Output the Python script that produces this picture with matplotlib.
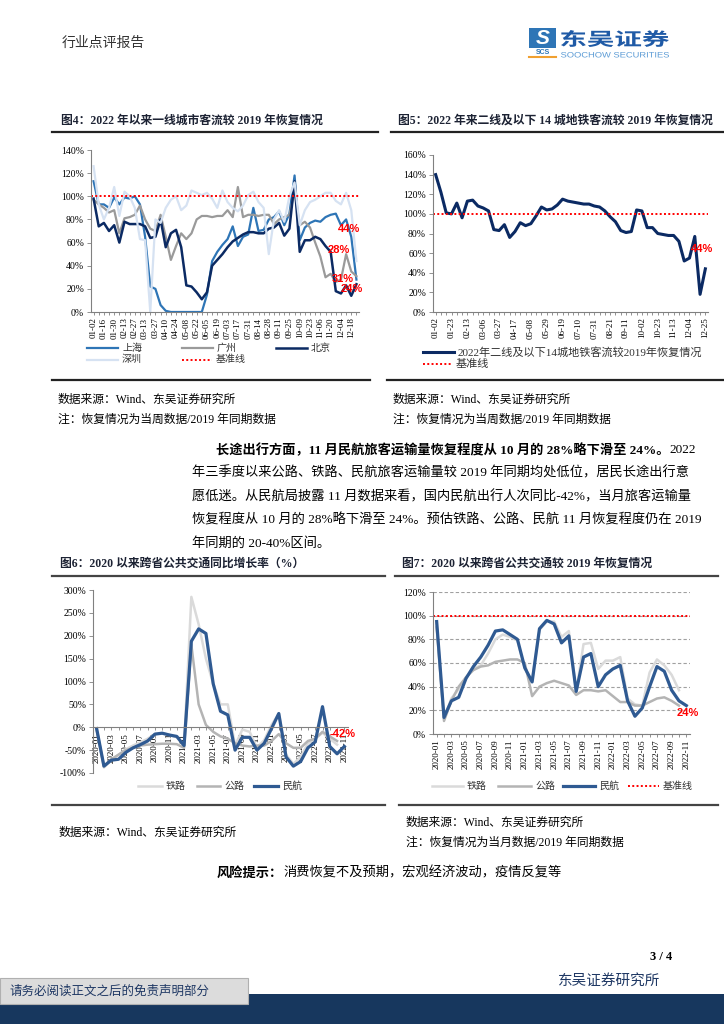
import numpy as np
import matplotlib
matplotlib.use('Agg')
import matplotlib.pyplot as plt
from matplotlib.lines import Line2D
from matplotlib.patches import Rectangle, PathPatch
from matplotlib.textpath import TextPath
from matplotlib.transforms import Affine2D
from matplotlib.font_manager import FontProperties
from matplotlib.ticker import FuncFormatter

plt.rcParams['font.family'] = ['Liberation Serif', 'Noto Sans CJK SC']
plt.rcParams['axes.unicode_minus'] = False

nan = np.nan

# ---------------- data ----------------
# fig 4: weekly, 2022-01-02 .. 2022-12-25 (52 weeks)
ticks4 = ['01-02', '01-16', '01-30', '02-13', '02-27', '03-13', '03-27', '04-10', '04-24',
          '05-08', '05-22', '06-05', '06-19', '07-03', '07-17', '07-31', '08-14', '08-28',
          '09-11', '09-25', '10-09', '10-23', '11-06', '11-20', '12-04', '12-18']
shanghai = [113, 93, 93, 90, 99, 93, 99, 98, 100, 93,
            65, 22, 20, 6, 1, 0, 0, 0, 0, 0,
            0, 0, 15, 44, 52, 58, 63, 74, 57, 65,
            67, 90, 70, 71, 80, 82, 87, 75, 85, 118,
            62, 73, 77, 79, 78, 82, 84, 85, 75, 80,
            65, 28]
guangzhou = [97, 93, 90, 86, 88, 68, 81, 82, 84, 92,
             80, 72, 70, 84, 65, 45, 57, 68, 63, 68,
             80, 83, 83, 82, 83, 83, 88, 82, 108, 82,
             84, 84, 83, 84, 84, 76, 80, 82, 84, 104,
             75, 78, 73, 60, 48, 30, 33, 26, 28, 50,
             35, 31]
beijing = [98, 74, 77, 70, 75, 60, 78, 76, 76, 76,
           74, 64, 65, 80, 56, 68, 71, 56, 23, 22,
           17, 11, 17, 40, 45, 50, 56, 61, 64, 67,
           69, 69, 68, 68, 72, 73, 77, 66, 72, 113,
           52, 62, 62, 65, 63, 57, 52, 18, 16, 23,
           14, 24]
shenzhen = [126, 93, 80, 90, 108, 83, 104, 100, 90, 63,
            62, 0, 80, 77, 90, 97, 100, 88, 92, 105,
            103, 101, 103, 98, 90, 105, 95, 90, 87, 92,
            101, 104, 95, 90, 50, 80, 88, 78, 100, 112,
            75, 88, 95, 97, 100, 103, 103, 96, 93, 103,
            88, 44]

# fig 5: weekly, 14 second-tier cities metro
ticks5 = ['01-02', '01-23', '02-13', '03-06', '03-27', '04-17', '05-08', '05-29', '06-19',
          '07-10', '07-31', '08-21', '09-11', '10-02', '10-23', '11-13', '12-04', '12-25']
metro = [140, 122, 101, 100, 111, 96, 113, 114, 108, 106,
         103, 84, 83, 89, 76, 82, 91, 88, 90, 98,
         107, 104, 105, 109, 115, 113, 112, 111, 110, 110,
         108, 107, 103, 97, 92, 83, 81, 82, 104, 103,
         86, 86, 80, 79, 78, 78, 72, 52, 55, 77,
         18, 44]

# fig 6 / fig 7: monthly, 2020-01 .. 2022-11
ticks_m = ['2020-01', '2020-03', '2020-05', '2020-07', '2020-09', '2020-11',
           '2021-01', '2021-03', '2021-05', '2021-07', '2021-09', '2021-11',
           '2022-01', '2022-03', '2022-05', '2022-07', '2022-09', '2022-11']
rail_yoy = [-5, -88, -72, -60, -48, -40, -33, -25, -15, -13,
            -17, -22, -40, 285, 225, 150, 95, 50, 50, -40,
            -5, -10, -45, -28, 5, 30, -60, -80, -65, -35,
            -25, -12, -25, -38, nan]
road_yoy = [-5, -85, -70, -60, -50, -45, -40, -38, -37, -36,
            -36, -37, -45, 180, 50, 5, -10, -20, -25, -35,
            -40, -42, -40, -40, -30, -15, -35, -45, -45, -30,
            -25, -10, -20, -30, nan]
air_yoy = [-3, -85, -72, -70, -55, -45, -38, -30, -15, -13,
           -17, -20, -40, 188, 215, 205, 95, 35, 27, -50,
           -22, -22, -50, -35, -3, 30, -65, -85, -75, -45,
           -32, 45, -42, -58, -42]

rail_rec = [93, 13, 30, 38, 48, 55, 58, 68, 80, 84,
            82, 79, 55, 45, 88, 95, 95, 82, 87, 35,
            76, 77, 55, 62, 62, 65, 30, 25, 24, 52,
            63, 58, 50, 37, nan]
road_rec = [90, 11, 28, 40, 48, 54, 57, 58, 61, 62,
            63, 63, 60, 32, 40, 43, 45, 43, 41, 33,
            37, 37, 36, 37, 32, 27, 27, 24, 24, 27,
            30, 31, 28, 24, nan]
air_rec = [95, 14, 28, 31, 47, 57, 65, 75, 87, 88,
           84, 80, 56, 44, 89, 96, 93, 77, 83, 36,
           65, 68, 40, 50, 55, 58, 28, 15, 22, 40,
           57, 53, 37, 28, 24]
baseline = 100

# ---------------- page layout helpers (pixel coords, origin top-left) ----------------
W, H = 724, 1024
fig = plt.figure(figsize=(W / 100, H / 100), dpi=100)


def fx(x):
    return x / W


def fy(y):
    return 1 - y / H


def box(x0, y0, x1, y1):
    return [fx(x0), fy(y1), (x1 - x0) / W, (y1 - y0) / H]


def put(x, y, s, **kw):
    kw.setdefault('va', 'center')
    kw.setdefault('ha', 'left')
    return fig.text(fx(x), fy(y), s, **kw)


def rule(x0, x1, y, **kw):
    fig.add_artist(Line2D([fx(x0), fx(x1)], [fy(y), fy(y)], transform=fig.transFigure, **kw))


def swatch(x0, x1, y, label, size=7.2, **kw):
    rule(x0, x1, y, **kw)
    put(x1 + 4, y, label, fontsize=size, color='#333333')


def stretch_text(s, x0, x1, y0, y1, color, family, weight='bold'):
    tp = TextPath((0, 0), s, size=10, prop=FontProperties(family=family, weight=weight))
    ext = tp.get_extents()
    tr = (Affine2D().translate(-ext.x0, -ext.y0)
          .scale((x1 - x0) / ext.width, (y1 - y0) / ext.height)
          .translate(x0, H - y1))
    fig.add_artist(PathPatch(tp, transform=tr, facecolor=color, lw=0))


pct = FuncFormatter(lambda v, p: f'{v:.0f}%')
AX_C = '#808080'
TITLE_C = '#1c2233'


def style_axes(ax, ymin, ymax, step, xticklabels, every):
    n = ax.get_lines()[0].get_xdata().size
    ax.set_xlim(-0.5, n - 0.5)
    ax.set_ylim(ymin, ymax)
    ax.set_yticks(np.arange(ymin, ymax + 1, step))
    ax.yaxis.set_major_formatter(pct)
    ax.set_xticks(np.arange(0, n, every))
    ax.set_xticklabels(xticklabels)
    ax.set_xticks(np.arange(n), minor=True)
    for sk in ['top', 'right']:
        ax.spines[sk].set_visible(False)
    for sk in ['left', 'bottom']:
        ax.spines[sk].set_color(AX_C)
        ax.spines[sk].set_linewidth(0.8)
    ax.tick_params(axis='y', labelsize=7, length=3, width=0.6, color=AX_C, pad=2)
    ax.tick_params(axis='x', which='both', labelsize=6.5, length=2, width=0.6, color=AX_C,
                   pad=2, labelrotation=90)
    ax.patch.set_alpha(0)


red_dot = dict(color='#FF0000', ls=(0, (1, 1.2)), lw=1.4)
ann = dict(color='#FF0000', fontsize=8, fontweight='bold', family='Liberation Sans',
           ha='center', va='center')

# ---------------- header ----------------
put(62, 43, '行业点评报告', fontsize=10, color='#333333', family='Noto Sans CJK SC')
fig.add_artist(Rectangle((fx(529), fy(48)), 27 / W, 20 / H, transform=fig.transFigure,
                         facecolor='#2E75B6', lw=0))
put(542.5, 38, 'S', fontsize=15, color='white', fontweight='bold', style='italic',
    family='Liberation Sans', ha='center')
put(542.5, 52.5, 'SCS', fontsize=5, color='#2E75B6', fontweight='bold',
    family='Liberation Sans', ha='center')
rule(529, 556, 56.5, color='#F0A030', lw=1.5)
stretch_text('东吴证券', 561, 669, 30, 47, '#1F5AA6', 'Noto Sans CJK SC')
stretch_text('SOOCHOW SECURITIES', 561, 669, 52, 57.5, '#5B9BD5', 'Liberation Sans', 'normal')

# ---------------- fig 4 ----------------
put(61, 121, '图4：2022 年以来一线城市客流较 2019 年恢复情况', fontsize=8.5,
    fontweight='bold', color=TITLE_C)
rule(52, 378, 131.5, color='#222222', lw=1.6)
ax4 = fig.add_axes(box(91, 150, 359, 312))
x4 = np.arange(len(shanghai))
C_SH, C_GZ, C_BJ, C_SZ = '#2E75B6', '#9A9A9A', '#0B2A63', '#D6E2F2'
ax4.plot(x4, shanghai, color=C_SH, lw=1.6)
ax4.plot(x4, guangzhou, color=C_GZ, lw=1.6)
ax4.plot(x4, beijing, color=C_BJ, lw=1.8)
ax4.plot(x4, shenzhen, color=C_SZ, lw=1.6)
ax4.axhline(baseline, **red_dot)
style_axes(ax4, 0, 140, 20, ticks4, 2)
ax4.text(49.6, 72, '44%', **ann)
ax4.text(47.5, 54, '28%', **ann)
ax4.text(48.4, 28.5, '31%', **ann)
ax4.text(50.0, 20, '24%', **ann)

swatch(87, 118, 348, '上海', color=C_SH, lw=1.6)
swatch(182, 213, 348, '广州', color=C_GZ, lw=1.6)
swatch(276, 307, 348, '北京', color=C_BJ, lw=1.8)
swatch(87, 118, 359.5, '深圳', color=C_SZ, lw=1.6)
swatch(182, 212, 359.5, '基准线', **red_dot)
rule(52, 370, 380, color='#222222', lw=1.6)
put(58, 399.5, '数据来源：Wind、东吴证券研究所', fontsize=8.5)
put(58, 419.5, '注：恢复情况为当周数据/2019 年同期数据', fontsize=8.5)

# ---------------- fig 5 ----------------
put(398, 121, '图5：2022 年来二线及以下 14 城地铁客流较 2019 年恢复情况', fontsize=8.5,
    fontweight='bold', color=TITLE_C)
rule(391, 724, 131.5, color='#222222', lw=1.6)
ax5 = fig.add_axes(box(433, 155, 708, 312))
x5 = np.arange(len(metro))
C_MT = '#0B2A63'
ax5.plot(x5, metro, color=C_MT, lw=2.2)
ax5.axhline(baseline, **red_dot)
style_axes(ax5, 0, 160, 20, ticks5, 3)
ax5.text(50.4, 64, '44%', **ann)
swatch(423, 454, 352, '2022年二线及以下14城地铁客流较2019年恢复情况', size=8.0,
       color=C_MT, lw=2.2)
swatch(423, 452, 364, '基准线', size=8.0, **red_dot)
rule(387, 724, 380, color='#222222', lw=1.6)
put(393, 399.5, '数据来源：Wind、东吴证券研究所', fontsize=8.5)
put(393, 419.5, '注：恢复情况为当周数据/2019 年同期数据', fontsize=8.5)

# ---------------- body paragraph ----------------
PS = 9.5
t = put(216, 450, '长途出行方面，11 月民航旅客运输量恢复程度从 10 月的 28%略下滑至 24%。',
        fontsize=PS, fontweight='bold')
fig.canvas.draw()
bb = t.get_window_extent()
put(bb.x1, 450, '2022', fontsize=PS)
body = ['年三季度以来公路、铁路、民航旅客运输量较 2019 年同期均处低位，居民长途出行意',
        '愿低迷。从民航局披露 11 月数据来看，国内民航出行人次同比-42%，当月旅客运输量',
        '恢复程度从 10 月的 28%略下滑至 24%。预估铁路、公路、民航 11 月恢复程度仍在 2019',
        '年同期的 20-40%区间。']
for i, line in enumerate(body):
    put(192, 473.3 + 23.3 * i, line, fontsize=PS)

# ---------------- fig 6 ----------------
put(60, 564, '图6：2020 以来跨省公共交通同比增长率（%）', fontsize=8.5,
    fontweight='bold', color=TITLE_C)
rule(52, 385, 575.5, color='#444444', lw=1.6)
ax6 = fig.add_axes(box(93, 590, 348, 773))
xm = np.arange(len(air_yoy))
C_RL, C_RD, C_AIR = '#DADADA', '#B4B4B4', '#2F5A92'
ax6.plot(xm, rail_yoy, color=C_RL, lw=1.8)
ax6.plot(xm, road_yoy, color=C_RD, lw=1.8)
ax6.plot(xm, air_yoy, color=C_AIR, lw=2.3)
ax6.spines['bottom'].set_position(('data', 0))
style_axes(ax6, -100, 300, 50, ticks_m, 2)
ax6.text(33.8, -15, '-42%', **ann)
swatch(138, 162, 786, '铁路', color=C_RL, lw=1.8)
swatch(197, 220, 786, '公路', color=C_RD, lw=1.8)
swatch(254, 278, 786, '民航', color=C_AIR, lw=2.3)
rule(52, 385, 804.5, color='#444444', lw=1.6)
put(59, 833, '数据来源：Wind、东吴证券研究所', fontsize=8.5)

# ---------------- fig 7 ----------------
put(402, 564, '图7：2020 以来跨省公共交通较 2019 年恢复情况', fontsize=8.5,
    fontweight='bold', color=TITLE_C)
rule(395, 718, 575.5, color='#444444', lw=1.6)
ax7 = fig.add_axes(box(433, 592, 690, 734))
ax7.plot(xm, rail_rec, color=C_RL, lw=1.8)
ax7.plot(xm, road_rec, color=C_RD, lw=1.8)
ax7.plot(xm, air_rec, color=C_AIR, lw=2.3)
ax7.axhline(baseline, **red_dot)
style_axes(ax7, 0, 120, 20, ticks_m, 2)
ax7.yaxis.grid(True, ls=(0, (3, 2)), color='#A0A0A0', lw=0.8)
ax7.set_axisbelow(True)
ax7.text(34.2, 17.7, '24%', **ann)
swatch(432, 463, 786, '铁路', color=C_RL, lw=1.8)
swatch(498, 531, 786, '公路', color=C_RD, lw=1.8)
swatch(563, 595, 786, '民航', color=C_AIR, lw=2.3)
swatch(628, 659, 786, '基准线', **red_dot)
rule(399, 718, 804.5, color='#444444', lw=1.6)
put(406, 823, '数据来源：Wind、东吴证券研究所', fontsize=8.5)
put(406, 843, '注：恢复情况为当月数据/2019 年同期数据', fontsize=8.5)

# ---------------- risk note ----------------
t = put(217, 873, '风险提示：', fontsize=PS, fontweight='bold')
fig.canvas.draw()
bb = t.get_window_extent()
put(bb.x1, 873, '消费恢复不及预期，宏观经济波动，疫情反复等', fontsize=PS)

# ---------------- footer ----------------
put(672, 957, '3 / 4', fontsize=9, fontweight='bold', ha='right')
put(660, 981, '东吴证券研究所', fontsize=10.5, color='#1F3864', ha='right',
    family='Noto Sans CJK SC')
fig.add_artist(Rectangle((0, 0), 1, 30 / H, transform=fig.transFigure,
                         facecolor='#17375E', lw=0))
fig.add_artist(Rectangle((0, fy(1004)), 248 / W, 26 / H, transform=fig.transFigure,
                         facecolor='#DCDCDC', edgecolor='#B0B0B0', lw=0.8))
put(9, 991, '请务必阅读正文之后的免责声明部分', fontsize=9, color='#1F3864',
    family='Noto Sans CJK SC')

fig.savefig('out.png', dpi=100)
